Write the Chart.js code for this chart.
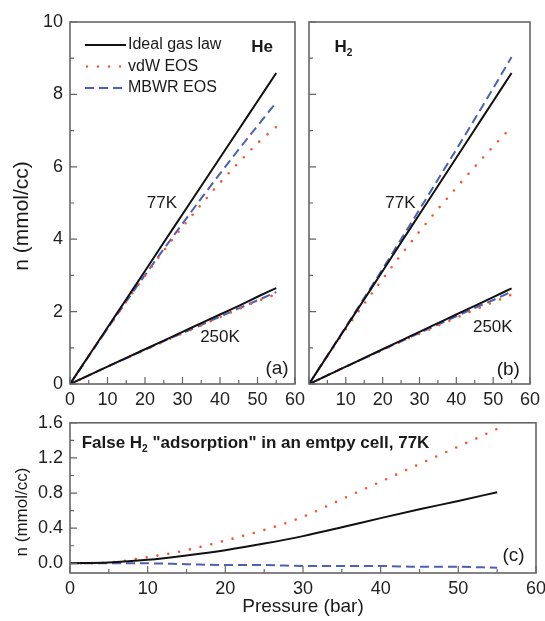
<!DOCTYPE html>
<html>
<head>
<meta charset="utf-8">
<script src="https://cdn.jsdelivr.net/npm/chart.js@4.4.0/dist/chart.umd.min.js"></script>
<style>
html,body{margin:0;padding:0;background:#fff;overflow:hidden;width:545px;height:621px;}
canvas{position:absolute;}
#ca{left:0;top:0;}
#cb{left:300px;top:0;}
#cc{left:0;top:405px;}
</style>
</head>
<body>
<canvas id="ca" width="315" height="415"></canvas>
<canvas id="cb" width="245" height="415"></canvas>
<canvas id="cc" width="555" height="216"></canvas>
<script>
// pressure (bar)
const pressure = [0, 5, 10, 15, 20, 25, 30, 35, 40, 45, 50, 55];

// (a) He, n (mmol/cc)
const heIdeal77  = [0, 0.78, 1.56, 2.34, 3.12, 3.91, 4.69, 5.47, 6.25, 7.03, 7.81, 8.59];
const heVdw77    = [0, 0.77, 1.53, 2.27, 2.99, 3.68, 4.34, 4.96, 5.56, 6.12, 6.65, 7.10];
const heMbwr77   = [0, 0.77, 1.53, 2.28, 3.01, 3.73, 4.43, 5.13, 5.81, 6.48, 7.13, 7.78];
const heIdeal250 = [0, 0.24, 0.48, 0.72, 0.96, 1.20, 1.44, 1.68, 1.92, 2.16, 2.41, 2.65];
const heVdw250   = [0, 0.24, 0.48, 0.71, 0.94, 1.17, 1.40, 1.62, 1.85, 2.07, 2.29, 2.48];
const heMbwr250  = [0, 0.24, 0.48, 0.71, 0.95, 1.18, 1.41, 1.63, 1.86, 2.09, 2.31, 2.54];

// (b) H2
const h2Ideal77  = [0, 0.78, 1.56, 2.34, 3.12, 3.91, 4.69, 5.47, 6.25, 7.03, 7.81, 8.59];
const h2Vdw77    = [0, 0.77, 1.51, 2.22, 2.90, 3.57, 4.21, 4.83, 5.42, 6.00, 6.56, 7.10];
const h2Mbwr77   = [0, 0.79, 1.58, 2.38, 3.18, 4.00, 4.82, 5.65, 6.48, 7.32, 8.17, 9.03];
const h2Ideal250 = [0, 0.24, 0.48, 0.72, 0.96, 1.20, 1.44, 1.68, 1.92, 2.16, 2.40, 2.64];
const h2Vdw250   = [0, 0.24, 0.48, 0.71, 0.94, 1.17, 1.39, 1.61, 1.83, 2.05, 2.26, 2.47];
const h2Mbwr250  = [0, 0.24, 0.48, 0.71, 0.95, 1.18, 1.41, 1.64, 1.87, 2.10, 2.32, 2.55];

// (c) false H2 "adsorption", 77K
const falseIdeal = [0, 0.01, 0.04, 0.09, 0.15, 0.225, 0.31, 0.41, 0.515, 0.615, 0.71, 0.81];
const falseVdw   = [0, 0.01, 0.07, 0.15, 0.26, 0.38, 0.53, 0.73, 0.93, 1.13, 1.33, 1.53];
const falseMbwr  = [0, 0, 0, -0.01, -0.02, -0.02, -0.03, -0.03, -0.03, -0.04, -0.04, -0.05];

const xTicks = [0, 10, 20, 30, 40, 50, 60];
const yTicksTop = [0, 2, 4, 6, 8, 10];
const yTicksFalse = [0, 0.4, 0.8, 1.2, 1.6];
const seriesNames = ['Ideal gas law', 'vdW EOS', 'MBWR EOS'];

Chart.defaults.font.family = "'Liberation Sans', Arial, sans-serif";
Chart.defaults.color = '#222';

const FONT = "'Liberation Sans', Arial, sans-serif";
const styles = [
  {borderColor: '#111', borderWidth: 2, borderDash: []},
  {borderColor: '#ee5a3a', borderWidth: 2.6, borderDash: [0, 11], borderCapStyle: 'round'},
  {borderColor: '#4b61b3', borderWidth: 2, borderDash: [9, 5]}
];

function ds(ys, k) {
  return Object.assign({
    data: pressure.map((p, i) => ({x: p, y: ys[i]})),
    pointRadius: 0,
    fill: false,
    cubicInterpolationMode: 'monotone'
  }, styles[k]);
}

// frame + inward ticks
const framePlugin = {
  id: 'frame',
  afterDatasetsDraw(chart, args, o) {
    const {ctx, chartArea: a, scales: {x, y}} = chart;
    ctx.save();
    ctx.strokeStyle = '#666';
    ctx.lineWidth = 1.2;
    ctx.beginPath();
    let k0 = Math.ceil(x.min / o.xMinor - 1e-9), k1 = Math.floor(x.max / o.xMinor + 1e-9);
    for (let k = k0; k <= k1; k++) {
      const v = k * o.xMinor, px = x.getPixelForValue(v);
      const major = x.ticks.some(t => Math.abs(t.value - v) < 1e-6);
      ctx.moveTo(px, a.bottom); ctx.lineTo(px, a.bottom - (major ? 7 : 4));
    }
    k0 = Math.ceil(y.min / o.yMinor - 1e-9); k1 = Math.floor(y.max / o.yMinor + 1e-9);
    for (let k = k0; k <= k1; k++) {
      const v = k * o.yMinor, py = y.getPixelForValue(v);
      const major = y.ticks.some(t => Math.abs(t.value - v) < 1e-6);
      ctx.moveTo(a.left, py); ctx.lineTo(a.left + (major ? 7 : 4), py);
    }
    ctx.stroke();
    ctx.lineWidth = 1.6;
    ctx.strokeRect(a.left, a.top, a.right - a.left, a.bottom - a.top);
    ctx.restore();
  }
};

function drawRich(ctx, segs, x, y, size, bold, align) {
  const w = (s) => (bold ? 'bold ' : '') + s + 'px ' + FONT;
  let total = 0;
  segs.forEach(s => { ctx.font = w(s.sub ? size * 0.6 : size); total += ctx.measureText(s.t).width; });
  let cx = align === 'center' ? x - total / 2 : x;
  ctx.textAlign = 'left';
  ctx.textBaseline = 'middle';
  segs.forEach(s => {
    ctx.font = w(s.sub ? size * 0.6 : size);
    ctx.fillText(s.t, cx, s.sub ? y + size * 0.35 : y);
    cx += ctx.measureText(s.t).width;
  });
}

// notes, legend, y title
const notesPlugin = {
  id: 'notes',
  afterDraw(chart, args, o) {
    const {ctx, chartArea: a, scales: {x, y}} = chart;
    ctx.save();
    ctx.fillStyle = '#1a1a1a';
    (o.notes || []).forEach(n => {
      drawRich(ctx, n.segs, x.getPixelForValue(n.x), y.getPixelForValue(n.y), n.size, n.bold, n.align || 'center');
    });
    if (o.legend) {
      seriesNames.forEach((name, i) => {
        const ly = a.top + 23 + i * 21.5, lx = a.left + 15;
        const st = styles[i];
        ctx.save();
        ctx.strokeStyle = st.borderColor;
        ctx.lineWidth = st.borderWidth;
        ctx.setLineDash(st.borderDash);
        ctx.lineCap = st.borderCapStyle || 'butt';
        ctx.beginPath();
        ctx.moveTo(lx + (i === 1 ? 2 : 0), ly); ctx.lineTo(lx + 41, ly);
        ctx.stroke();
        ctx.restore();
        ctx.font = '16px ' + FONT;
        ctx.textAlign = 'left';
        ctx.textBaseline = 'middle';
        ctx.fillText(name, lx + 43, ly);
      });
    }
    if (o.yTitle) {
      ctx.translate(o.yTitle.x, o.yTitle.y);
      ctx.rotate(-Math.PI / 2);
      ctx.font = o.yTitle.size + 'px ' + FONT;
      ctx.textAlign = 'center';
      ctx.textBaseline = 'middle';
      ctx.fillText('n (mmol/cc)', 0, 0);
    }
    ctx.restore();
  }
};

function makeChart(id, datasets, c) {
  return new Chart(document.getElementById(id), {
    type: 'line',
    data: {datasets: datasets},
    plugins: [framePlugin, notesPlugin],
    options: {
      responsive: false,
      animation: false,
      layout: {padding: c.pad},
      plugins: {
        legend: {display: false},
        tooltip: {enabled: false},
        frame: {xMinor: c.xMinor, yMinor: c.yMinor},
        notes: {notes: c.notes, legend: c.legend, yTitle: c.yTitle}
      },
      scales: {
        x: {
          type: 'linear', min: 0, max: 60, bounds: 'data',
          grid: {display: false, drawTicks: false},
          border: {display: false},
          ticks: {font: {size: 18}, padding: 5, maxRotation: 0, autoSkip: false,
            callback: c.xLabel || (v => v)},
          title: c.xTitle ? {display: true, text: c.xTitle, font: {size: 19}, padding: {top: 0, bottom: 3}, color: '#1a1a1a'} : {display: false},
          afterBuildTicks: s => { s.ticks = xTicks.map(v => ({value: v})); },
          afterFit: s => { s.height = c.xH; }
        },
        y: {
          type: 'linear', min: c.yMin, max: c.yMax, bounds: 'data',
          grid: {display: false, drawTicks: false},
          border: {display: false},
          ticks: {display: c.yLabels, font: {size: 18}, padding: 7, autoSkip: false,
            callback: c.yFmt || (v => v)},
          afterBuildTicks: s => { s.ticks = c.yTicks.map(v => ({value: v})); },
          afterFit: s => { s.width = c.yW; }
        }
      }
    }
  });
}

makeChart('ca', [
  ds(heIdeal77, 0), ds(heIdeal250, 0),
  ds(heVdw77, 1), ds(heVdw250, 1),
  ds(heMbwr77, 2), ds(heMbwr250, 2)
], {
  pad: {left: 0, right: 20, top: 22, bottom: 0}, xH: 31, yW: 70,
  yMin: 0, yMax: 10, yTicks: yTicksTop, yLabels: true, xMinor: 5, yMinor: 1,
  legend: true,
  yTitle: {x: 22, y: 216, size: 21},
  notes: [
    {segs: [{t: '77K'}], x: 24.5, y: 5.0, size: 17},
    {segs: [{t: '250K'}], x: 40, y: 1.3, size: 17},
    {segs: [{t: '(a)'}], x: 55.2, y: 0.41, size: 19},
    {segs: [{t: 'He'}], x: 51.2, y: 9.3, size: 17, bold: true}
  ]
});

makeChart('cb', [
  ds(h2Ideal77, 0), ds(h2Ideal250, 0),
  ds(h2Vdw77, 1), ds(h2Vdw250, 1),
  ds(h2Mbwr77, 2), ds(h2Mbwr250, 2)
], {
  pad: {left: 0, right: 11, top: 22, bottom: 0}, xH: 31, yW: 9,
  yMin: 0, yMax: 10, yTicks: yTicksTop, yLabels: false, xMinor: 5, yMinor: 1,
  xLabel: v => (v === 0 ? '' : v),
  notes: [
    {segs: [{t: '77K'}], x: 24.8, y: 5.0, size: 17},
    {segs: [{t: '250K'}], x: 49.9, y: 1.57, size: 17},
    {segs: [{t: '(b)'}], x: 54.1, y: 0.39, size: 19},
    {segs: [{t: 'H'}, {t: '2', sub: true}], x: 6.9, y: 9.3, size: 17, bold: true, align: 'left'}
  ]
});

makeChart('cc', [
  ds(falseIdeal, 0), ds(falseVdw, 1), ds(falseMbwr, 2)
], {
  pad: {left: 0, right: 19, top: 17, bottom: 0}, xH: 48, yW: 70,
  yMin: -0.11, yMax: 1.6, yTicks: yTicksFalse, yLabels: true, xMinor: 5, yMinor: 0.2,
  yFmt: v => v.toFixed(1),
  xTitle: 'Pressure (bar)',
  yTitle: {x: 22, y: 107, size: 17},
  notes: [
    {segs: [{t: '(c)'}], x: 57.1, y: 0.09, size: 19},
    {segs: [{t: 'False H'}, {t: '2', sub: true}, {t: ' "adsorption" in an emtpy cell, 77K'}], x: 1.5, y: 1.37, size: 17, bold: true, align: 'left'}
  ]
});
</script>
</body>
</html>
